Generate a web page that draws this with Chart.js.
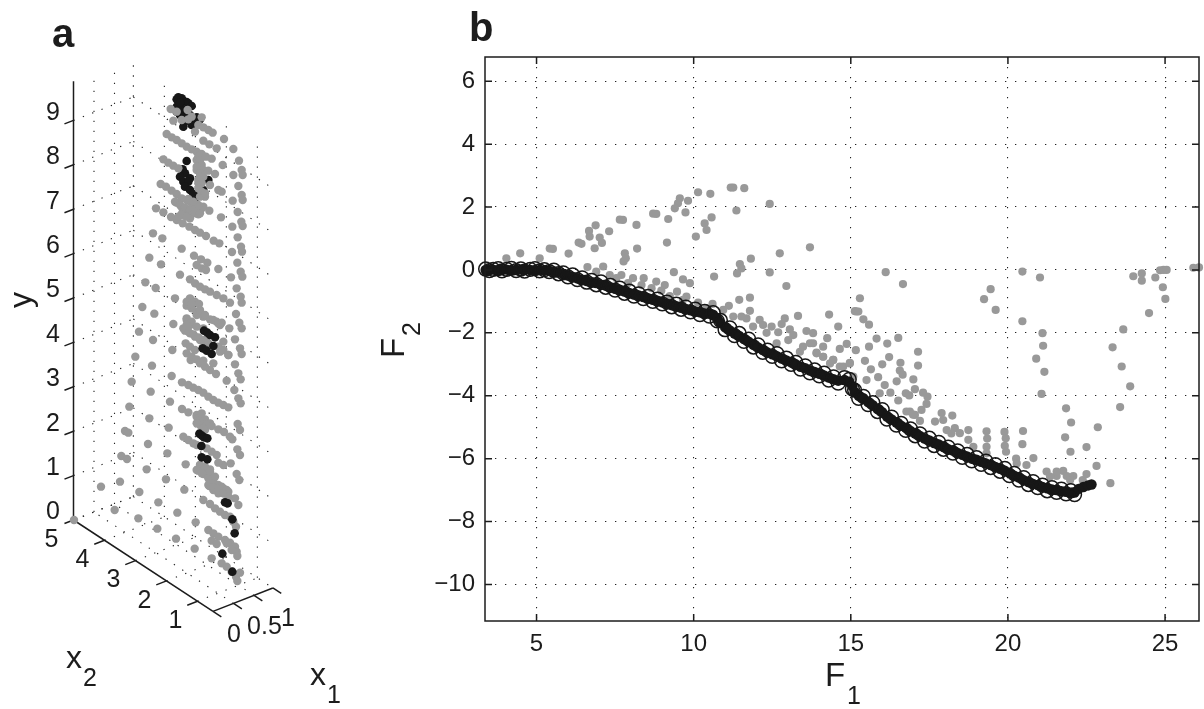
<!DOCTYPE html>
<html><head><meta charset="utf-8">
<style>
html,body{margin:0;padding:0;background:#fff;width:1204px;height:709px;overflow:hidden}
canvas{position:absolute;top:0}
#ca{left:0}#cb{left:340px}
</style>
<script src="https://cdn.jsdelivr.net/npm/chart.js@4/dist/chart.umd.min.js"></script>
</head><body>
<canvas id="ca" width="340" height="709"></canvas>
<canvas id="cb" width="864" height="709"></canvas>
<script>
// ---------- Panel a: projected coordinates of the 3-D view ----------
const aGrayU=[512,530,563,575,605,520,545,565,595,610,625,638,585,672,700,610,628,650,500,515,530,545,560,575,590,605,618,635,717,668,490,505,520,535,590,600,590,610,625,645,700,725,728,600,595,630,715,655,665,725,728,698,482,498,515,530,545,560,575,590,605,530,545,560,580,595,615,628,713,663,724,728,697,468,490,513,545,570,530,548,568,585,600,618,641,658,713,723,726,696,459,487,545,448,483,582,603,622,590,605,618,655,712,540,722,727,693,710,436,467,570,585,600,615,630,650,670,525,722,725,690,570,585,597,560,575,590,427,463,520,708,718,725,688,590,610,630,650,660,560,570,555,570,585,600,620,660,670,417,459,705,557,570,585,720,725,685,517,406,
572,610,630,648,685,705,715,722,680,515,456,395,452,510,546,565,580,595,610,625,640,655,670,685,703,715,722,388,448,506,546,565,590,605,620,635,655,672,600,615,713,720,697,690,375,385,444,502,550,565,580,620,635,650,670,655,712,720,692,364,381,440,557,600,615,630,595,610,625,640,655,670,685,710,718,498,303,360,418,553,628,640,655,672,705,715,475,344,610,630,645,660,675,690,700,708,532,415,587,472,528,625,640,655,635,650,675,690,705,710,712,584,635,665,680,695,720,708,712,222,
595,600,605,590,600,610,595,605,595,605,600,615,525,540,555,570,585,600,610,595,580,565,545,560,535,560,575,600,615,640,655,665,550,565,580,595,610,625,655,670,560,575,560,590,610,560,575,590,600,615,640,590,600,615,630,600,620,610,590,605,590,605,620,600,615,630,645,665,680,625,640,655,670,685,590,605,680,700,695];
const aGrayV=[327,335,330,350,352,362,360,358,375,382,390,398,395,417,447,422,433,445,402,412,420,430,440,448,455,462,470,476,482,495,478,488,497,505,480,490,510,510,512,522,525,510,525,530,550,555,558,570,575,585,600,602,552,560,572,582,595,600,610,620,625,608,622,632,640,643,590,632,636,652,665,678,680,625,637,651,642,655,660,670,680,690,698,708,722,730,712,740,755,756,700,715,746,773,793,767,778,788,795,805,810,807,788,824,815,830,832,865,847,864,838,850,860,868,875,885,895,895,890,908,908,895,905,912,917,925,935,921,941,972,942,968,985,985,945,950,958,965,975,955,975,992,1000,1010,1020,1025,1055,1025,995,1020,1018,1030,1040,1050,1045,1062,1065,1050,1070,
1080,1082,1110,1122,1065,1093,1120,1138,1142,1128,1097,1145,1175,1205,1147,1155,1163,1170,1178,1190,1200,1208,1215,1222,1170,1195,1210,1220,1255,1283,1227,1237,1250,1260,1270,1278,1288,1296,1275,1290,1272,1290,1318,1310,1293,1298,1332,1360,1310,1320,1330,1345,1355,1365,1395,1388,1348,1365,1390,1368,1377,1408,1393,1395,1400,1408,1412,1422,1435,1445,1455,1465,1475,1422,1440,1438,1460,1445,1476,1469,1458,1470,1480,1480,1495,1515,1507,1530,1500,1512,1525,1535,1545,1550,1565,1580,1538,1555,1567,1586,1616,1590,1600,1610,1622,1632,1620,1628,1640,1655,1668,1646,1675,1690,1700,1715,1718,1730,1743,1560,
470,480,495,500,520,530,540,550,565,575,590,580,605,615,622,630,638,640,620,615,605,597,645,650,650,905,912,930,945,960,970,968,985,995,1003,1012,1020,1030,1040,1050,960,965,975,980,985,1060,1070,1078,1090,1100,1090,1245,1250,1258,1270,1265,1275,1285,1270,1240,1335,1338,1410,1395,1405,1415,1430,1460,1470,1455,1462,1470,1480,1490,1410,1420,1630,1640,1650];
const aBlackTopU=[530,535,545,550,560,565,575,530,545,560,585,540,560,575,550,595,570,540,530,545,590,600,560,548,555,570,540,550,565,555,570,590,580,610,625];
const aBlackTopV=[298,292,295,302,306,310,318,320,325,335,360,345,362,375,380,355,345,308,335,350,352,358,483,508,520,535,530,545,545,560,570,590,582,570,540];
const aBlackLowU=[612,622,630,645,640,608,620,635,598,606,612,622,605,622,675,683,704,667,604,697,697];
const aBlackLowV=[992,998,1005,1012,1038,1045,1052,1062,1301,1307,1312,1315,1372,1378,1507,1510,1600,1661,1338,1558,1715];
const yTicks=[0,1,2,3,4,5,6,7,8,9];
const x2Ticks=[5,4,3,2,1];
const x1Ticks=[0,0.5,1];
const x1Tops=[0.5,1];

// ---------- Panel b: objective space ----------
const xTicksB=[5,10,15,20,25];
const yTicksB=[6,4,2,0,-2,-4,-6,-8,-10];
const grayF1=[4.04,4.48,5.10,5.42,5.52,6.02,6.34,6.43,6.67,6.88,7.01,7.31,6.85,7.08,6.69,7.65,7.75,8.18,8.71,8.81,9.19,9.15,8.2,7.81,7.77,7.84,7.12,6.62,9.56,9.5,9.82,9.4,9.74,10.14,10.53,11.18,11.26,11.61,11.36,10.57,10.35,10.41,10.07,12.42,13.70,12.74,11.82,11.47,11.52,11.38,10.65,12.42,12.95,11.79,11.45,11.12,15.29,15.18,15.4,14.31,14.6,13.32,6.9,7.33,7.7,8.07,8.41,8.81,9.08,9.37,9.66,9.88,9.47,9.77,10.14,10.6,11.52,11.79,12.1,12.9,12.8,12.21,12.48,12.69,13.06,13.17,13.01,13.59,13.8,13.7,14.25,14.12,13.91,14.65,14.87,15.16,15.45,14.97,13.38,14.44,14.12,15.08,16.11,16.66,15.13,15.24,15.58,15.82,16.51,16.16,15.58,17.14,17.14,16.22,16.0,16.58,15.64,16.56,16.65,15.87,16.46,16.99,17.04,16.08,16.26,16.75,16.86,17.3,17.44,17.41,17.25,16.51,16.88,17.04,15.5,15.92,17.89,18.23,17.68,17.94,18.31,18.47,18.74,19.32,19.89,19.34,19.93,18.74,19.32,19.9,19.94,20.48,20.46,20.81,20.26,20.59,21.23,21.76,21.55,22.08,21.87,22.38,22.5,22.82,23.26,22.5,22.86,21.99,21.82,22.01,21.85,21.07,21.16,20.9,21.12,21.1,20.46,19.61,19.24,19.45,20.46,21.02,23.57,23.89,23.62,23.33,23.67,24.49,23.99,24.26,24.26,24.69,24.93,25.01,24.84,24.95,25.05,25.9,26.08,
7.54,7.91,8.34,8.66,8.97,9.24,9.66,10.41,10.94,11.26,11.68,11.89,12.32,12.64,13.48,14.34,14.65,13.8,13.91,14.12,14.44,14.76,14.97,16.77,16.98,17.2,18.05,18.2,18.9,19.32,20.28,21.55,21.98,21.34];
const grayF2=[0.37,0.53,0.37,0.68,0.67,0.52,0.87,0.83,1.24,1.42,1.03,1.23,0.69,0.86,1.06,1.60,1.59,1.43,1.79,1.78,1.62,0.87,0.68,0.53,0.27,0.37,0.11,0.09,2.28,2.12,2.2,1.96,1.83,2.47,2.42,2.62,2.62,2.60,1.89,1.67,1.48,1.27,1.06,2.10,0.72,0.53,0.36,0.19,0.05,-0.11,-0.21,-0.08,-0.51,-0.88,-0.95,-1.14,-0.9,-1.32,-1.57,-1.42,-1.8,-1.46,-0.05,-0.16,-0.16,-0.26,-0.26,-0.37,-0.48,-0.07,-0.3,-0.42,-0.69,-0.85,-1.04,-1.08,-1.48,-1.3,-1.59,-1.54,-1.72,-1.75,-1.8,-1.98,-1.89,-2.07,-2.23,-1.94,-2.01,-2.33,-2.17,-2.44,-2.63,-2.51,-2.35,-2.55,-2.89,-2.95,-2.6,-2.86,-2.76,-3.39,-0.07,-0.45,-1.31,-1.32,-1.74,-2.18,-2.16,-2.34,-2.44,-2.6,-3.04,-2.77,-3.0,-2.95,-3.16,-3.2,-3.33,-3.41,-3.54,-3.48,-3.79,-3.66,-3.9,-3.92,-3.99,-3.9,-4.03,-4.26,-4.45,-4.15,-4.5,-4.61,-3.5,-3.92,-4.55,-4.63,-4.82,-4.77,-5.03,-5.19,-5.09,-5.13,-5.15,-5.36,-5.35,-5.4,-5.62,-5.59,-5.78,-5.12,-5.54,-5.98,-6.0,-6.2,-6.41,-6.39,-6.55,-6.55,-6.55,-6.68,-6.49,-6.23,-6.78,-5.63,-5.0,-5.78,-5.32,-4.85,-4.4,-3.94,-3.24,-2.82,-2.41,-2.01,-1.63,-1.27,-0.93,-0.61,-0.05,-0.24,-4.36,-3.7,-3.07,-2.46,-1.89,-1.37,-0.2,-0.11,-0.34,-0.24,-0.55,-0.92,-0.01,0,0,0.07,0.08,
-0.26,-0.42,-0.48,-0.58,-0.66,-0.83,-0.95,-1.22,-1.27,-1.48,-1.54,-1.8,-2,-2.33,-2.44,-2.97,-3.07,-2.33,-2.65,-2.76,-2.86,-3.07,-2.97,-4.5,-4.6,-4.8,-5.09,-5.2,-5.62,-5.83,-6.15,-6.41,-6.68,-6.57];
const frontF1=[3.38,3.5,3.62,3.78,3.9,4.05,4.2,4.35,4.5,4.62,4.8,4.95,5.1,5.25,5.4,5.55,5.7,5.85,6.0,6.15,6.3,6.45,6.6,6.75,6.9,7.05,7.2,7.35,7.5,7.65,7.8,7.95,8.1,8.25,8.4,8.55,8.7,8.85,9.0,9.15,9.3,9.45,9.6,9.75,9.9,10.05,10.2,10.35,10.5,10.62,10.75,10.85,11.0,11.15,11.3,11.45,11.6,11.75,11.9,12.05,12.2,12.35,12.5,12.65,12.8,12.95,13.1,13.25,13.4,13.55,13.7,13.85,14.0,14.15,14.3,14.45,14.6,14.8,14.95,15.05,15.12,15.25,15.4,15.55,15.7,15.85,16.0,16.15,16.3,16.45,16.6,16.75,16.9,17.05,17.2,17.35,17.5,17.65,17.8,17.95,18.1,18.25,18.4,18.55,18.7,18.85,19.0,19.15,19.3,19.45,19.6,19.75,19.9,20.05,20.2,20.35,20.5,20.65,20.8,20.95,21.1,21.25,21.4,21.55,21.7,21.85,22.0,22.12];
const frontF2=[0.03,-0.02,0.02,0.04,-0.03,0.02,0.05,-0.02,0.03,-0.04,0.02,0.04,-0.03,0.01,
-0.05,-0.01,-0.12,-0.09,-0.22,-0.16,-0.31,-0.25,-0.39,-0.33,
-0.47,-0.38,-0.55,-0.49,-0.64,-0.58,-0.74,-0.67,-0.83,-0.76,
-0.91,-0.84,-1.0,-0.93,-1.08,-1.02,-1.17,-1.09,-1.25,-1.18,
-1.33,-1.25,-1.42,-1.32,-1.47,-1.36,-1.62,-1.6,-1.9,-1.84,
-2.09,-2.02,-2.27,-2.2,-2.45,-2.38,-2.62,-2.55,-2.75,-2.66,
-2.89,-2.8,-3.0,-2.94,-3.15,-3.05,-3.27,-3.18,-3.37,-3.28,
-3.5,-3.4,-3.6,-3.42,-3.48,-3.78,-3.82,-4.08,-4.02,-4.28,
-4.22,-4.5,-4.44,-4.74,-4.68,-4.93,-4.88,-5.1,-5.05,-5.27,
-5.21,-5.44,-5.35,-5.58,-5.48,-5.7,-5.63,-5.82,-5.75,-5.96,
-5.86,-6.07,-5.97,-6.18,-6.08,-6.28,-6.19,-6.4,-6.31,-6.54,
-6.47,-6.68,-6.6,-6.82,-6.73,-6.92,-6.84,-7.02,-6.92,-7.07,
-6.97,-7.12,-7.02,-7.14];
const coreF2=[0,0,0.01,0,0,0.01,0,0,0.01,0,0,0,0,-0.01,-0.02,-0.05,-0.08,-0.13,-0.18,-0.22,-0.27,-0.31,-0.35,-0.39,-0.42,-0.47,-0.5,-0.55,-0.6,-0.63,-0.69,-0.73,-0.78,-0.81,-0.86,-0.9,-0.95,-0.98,-1.03,-1.07,-1.12,-1.15,-1.2,-1.24,-1.28,-1.32,-1.35,-1.38,-1.38,-1.42,-1.55,-1.68,-1.82,-1.92,-2.02,-2.1,-2.2,-2.28,-2.38,-2.46,-2.55,-2.62,-2.68,-2.74,-2.82,-2.88,-2.94,-3.0,-3.08,-3.12,-3.2,-3.24,-3.3,-3.35,-3.42,-3.47,-3.52,-3.5,-3.55,-3.7,-3.88,-4.0,-4.08,-4.2,-4.3,-4.42,-4.52,-4.66,-4.75,-4.85,-4.95,-5.02,-5.12,-5.2,-5.28,-5.36,-5.42,-5.5,-5.55,-5.63,-5.7,-5.74,-5.82,-5.88,-5.93,-6.0,-6.03,-6.1,-6.15,-6.2,-6.26,-6.32,-6.38,-6.46,-6.54,-6.6,-6.68,-6.74,-6.8,-6.84,-6.9,-6.94,-6.98,-7.0,-7.03,-7.05,-7.08,-7.08];
const tailF1=[22.25,22.4,22.55,22.66];
const tailF2=[-6.96,-6.9,-6.85,-6.82];

const zip=(a,b)=>a.map((v,i)=>({x:v,y:b[i]}));
const GRAY='#999999', BLACK='#171717', INK='#1c1c1c';
const FAM='"Liberation Sans",Arial,sans-serif';
const baseOpts={responsive:false,animation:false,events:[],plugins:{legend:{display:false},tooltip:{enabled:false}}};
const DOTS=[1.3,8.7];

// ---------- Panel a ----------
const X1MAX=1.46, X2MIN=0.5, YMAX=9.88;
const project=(x1,x2,y)=>({u:3*(73.5+41*x1+31*(5-x2)),v:3*(520-44.4*y-16*x1+20.3*(5-x2))});
const axes3d={id:'axes3d',beforeDatasetsDraw(c){
  const g=c.ctx,sx=c.scales.x,sy=c.scales.y;
  const P=(a,b,d)=>{const p=project(a,b,d);return [sx.getPixelForValue(p.u),sy.getPixelForValue(p.v)];};
  const seg=(A,B)=>{g.beginPath();g.moveTo(A[0],A[1]);g.lineTo(B[0],B[1]);g.stroke();};
  g.save();
  g.strokeStyle='#222';g.lineWidth=1.1;g.setLineDash(DOTS);
  yTicks.forEach(y=>{seg(P(0,5,y),P(X1MAX,5,y));seg(P(X1MAX,5,y),P(X1MAX,X2MIN,y));});
  x1Tops.forEach(a=>{seg(P(a,5,0),P(a,5,YMAX));seg(P(a,X2MIN,0),P(a,5,0));});
  x2Ticks.forEach(b=>{seg(P(X1MAX,b,0),P(X1MAX,b,YMAX));seg(P(0,b,0),P(X1MAX,b,0));});
  g.setLineDash([]);g.strokeStyle=INK;g.lineWidth=1.5;
  seg(P(0,5,0),P(0,5,YMAX));seg(P(0,5,0),P(0,X2MIN,0));seg(P(0,X2MIN,0),P(X1MAX,X2MIN,0));
  yTicks.forEach(y=>seg(P(0,5,y),P(-0.22,5,y)));
  x2Ticks.filter(b=>b<5).forEach(b=>seg(P(0,b,0),P(-0.25,b,0)));
  x1Ticks.concat([X1MAX]).forEach(a=>seg(P(a,X2MIN,0),P(a,X2MIN-0.27,0)));
  g.restore();
},afterDraw(c){
  const g=c.ctx,sx=c.scales.x,sy=c.scales.y;
  const P=(a,b,d)=>{const p=project(a,b,d);return [sx.getPixelForValue(p.u),sy.getPixelForValue(p.v)];};
  g.save();g.fillStyle=INK;g.textBaseline='middle';
  g.font='25px '+FAM;
  g.textAlign='right';yTicks.forEach(y=>{const p=P(0,5,y);g.fillText(String(y),p[0]-13.5,p[1]-7.5);});
  g.textAlign='center';x2Ticks.forEach(b=>{const p=P(0,b,0);g.fillText(String(b),p[0]-22,p[1]+20);});
  const off=[21,31,34];
  x1Ticks.forEach((a,i)=>{const p=P(a,X2MIN,0);g.fillText(String(a),p[0]+off[i],p[1]+24);});
  g.textBaseline='alphabetic';g.textAlign='left';
  g.font='bold 40px '+FAM;g.fillText('a',52,47);
  g.font='32px '+FAM;g.fillText('x',66,668);g.fillText('x',310,685);
  g.font='25px '+FAM;g.fillText('2',83,686);g.fillText('1',327,703);
  g.save();g.translate(31,300);g.rotate(-Math.PI/2);g.font='32px '+FAM;g.textAlign='center';g.fillText('y',0,0);g.restore();
  g.restore();
}};
new Chart(document.getElementById('ca'),{type:'scatter',plugins:[axes3d],data:{datasets:[
  {data:zip(aBlackTopU,aBlackTopV),backgroundColor:BLACK,borderWidth:0,pointRadius:4.3,order:3},
  {data:zip(aGrayU,aGrayV),backgroundColor:GRAY,borderWidth:0,pointRadius:4.2,order:2},
  {data:zip(aBlackLowU,aBlackLowV),backgroundColor:BLACK,borderWidth:0,pointRadius:4.3,order:1}
]},options:{...baseOpts,layout:{padding:0,autoPadding:false},scales:{
  x:{type:'linear',display:false,min:0,max:1020},
  y:{type:'linear',display:false,min:0,max:2127,reverse:true}
}}});

// ---------- Panel b ----------
const minus=v=>v<0?'\u2212'+Math.abs(v):String(v);
const boxB={id:'boxB',afterDatasetsDraw(c){
  const g=c.ctx,a=c.chartArea,sx=c.scales.x,sy=c.scales.y;
  g.save();g.strokeStyle=INK;g.lineWidth=1.5;
  g.strokeRect(a.left,a.top,a.right-a.left,a.bottom-a.top);
  g.beginPath();
  xTicksB.forEach(v=>{const p=sx.getPixelForValue(v);g.moveTo(p,a.bottom);g.lineTo(p,a.bottom-7);g.moveTo(p,a.top);g.lineTo(p,a.top+7);});
  yTicksB.forEach(v=>{const p=sy.getPixelForValue(v);g.moveTo(a.left,p);g.lineTo(a.left+7,p);g.moveTo(a.right,p);g.lineTo(a.right-7,p);});
  g.stroke();g.restore();
},afterDraw(c){
  const g=c.ctx;
  g.save();g.fillStyle=INK;g.textBaseline='alphabetic';g.textAlign='left';
  g.font='bold 40px '+FAM;g.fillText('b',129,41);
  g.font='33px '+FAM;g.fillText('F',485,686);
  g.font='25px '+FAM;g.fillText('1',507,704);
  g.save();g.translate(64,358);g.rotate(-Math.PI/2);g.font='33px '+FAM;g.fillText('F',0,0);g.font='25px '+FAM;g.fillText('2',22,16);g.restore();
  g.restore();
}};
const grid={color:'#222',lineWidth:1.1,drawTicks:false};
const border={display:false,dash:DOTS};
new Chart(document.getElementById('cb'),{type:'scatter',plugins:[boxB],data:{datasets:[
  {data:zip(frontF1,frontF2),backgroundColor:'rgba(0,0,0,0)',borderColor:BLACK,borderWidth:1.5,pointRadius:6.9,clip:false,order:1},
  {data:zip(frontF1.concat(tailF1),coreF2.concat(tailF2)),backgroundColor:BLACK,borderWidth:0,pointRadius:5.2,clip:false,order:2},
  {data:zip(grayF1,grayF2),backgroundColor:GRAY,borderWidth:0,pointRadius:4.1,clip:false,order:3}
]},options:{...baseOpts,layout:{padding:{top:57,right:5,left:0,bottom:0},autoPadding:false},scales:{
  x:{type:'linear',min:3.36,max:26.08,border,grid,
     afterFit:s=>{s.height=88;},
     afterBuildTicks:s=>{s.ticks=xTicksB.map(v=>({value:v}));},
     ticks:{color:INK,font:{family:FAM,size:24},padding:9,maxRotation:0,callback:minus}},
  y:{type:'linear',min:-11.16,max:6.77,border,grid,
     afterFit:s=>{s.width=145;},
     afterBuildTicks:s=>{s.ticks=yTicksB.map(v=>({value:v}));},
     ticks:{color:INK,font:{family:FAM,size:24},padding:10,callback:minus}}
}}});
</script>
</body></html>
